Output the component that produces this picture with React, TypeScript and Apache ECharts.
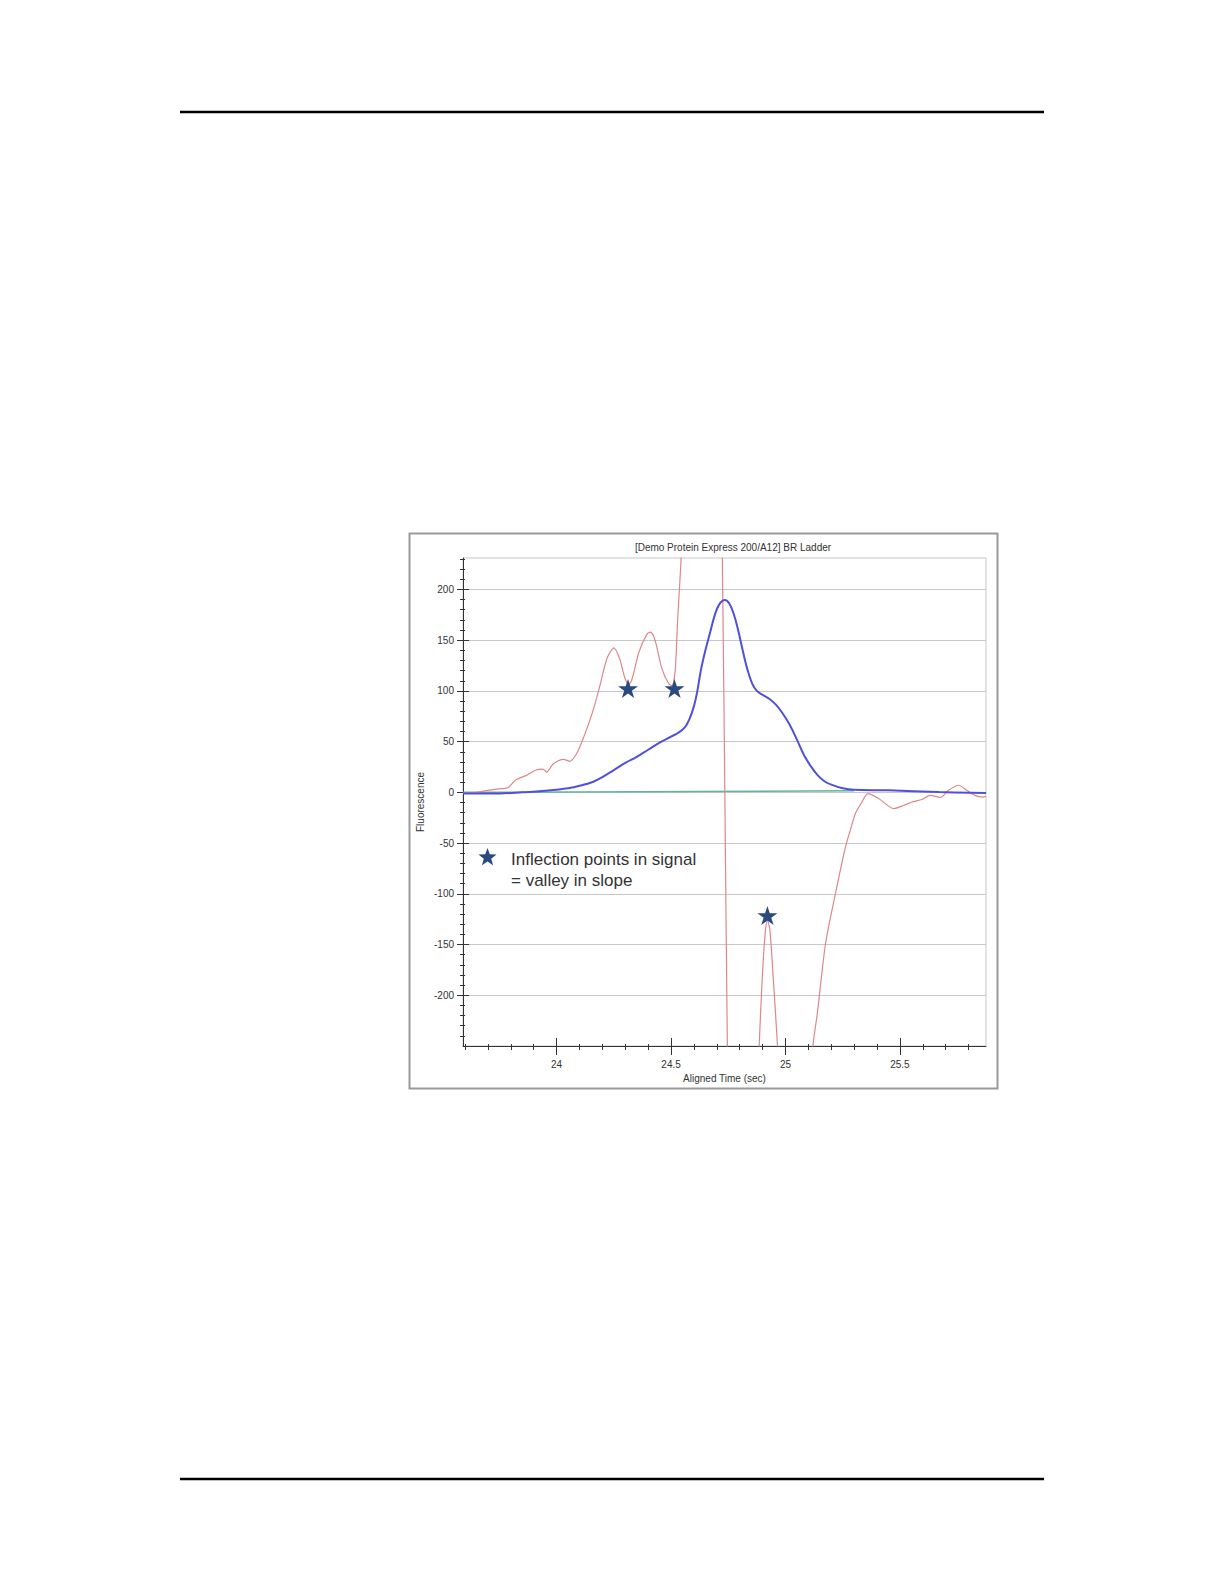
import React, { useEffect, useRef } from "react";
import * as echarts from "echarts";

// ---- Data ----
const chartTitle = "[Demo Protein Express 200/A12] BR Ladder";
const xAxisName = "Aligned Time (sec)";
const yAxisName = "Fluorescence";
const legendLines = ["Inflection points in signal", "= valley in slope"];

const xMin = 23.591;
const xMax = 25.876;
const yMin = -250;
const yMax = 231;

const xTickValues = [24, 24.5, 25, 25.5];
const xMinorTickValues = [
  23.6, 23.7, 23.8, 23.9, 24.0, 24.1, 24.2, 24.3, 24.4, 24.5, 24.6, 24.7, 24.8,
  24.9, 25.0, 25.1, 25.2, 25.3, 25.4, 25.5, 25.6, 25.7, 25.8,
];
const yTickValues = [-200, -150, -100, -50, 0, 50, 100, 150, 200];
const yMinorTickValues = [
  -240, -230, -220, -210, -200, -190, -180, -170, -160, -150, -140, -130, -120,
  -110, -100, -90, -80, -70, -60, -50, -40, -30, -20, -10, 0, 10, 20, 30, 40,
  50, 60, 70, 80, 90, 100, 110, 120, 130, 140, 150, 160, 170, 180, 190, 200,
  210, 220, 230,
];

// Signal (blue)
const signalPoints: [number, number][] = [
  [23.591, -1], [23.75, -1], [23.85, 0], [23.95, 1.5], [24.05, 4],
  [24.11, 7], [24.16, 10.5], [24.2, 15], [24.25, 22], [24.3, 29],
  [24.35, 35], [24.4, 42], [24.45, 49], [24.5, 55], [24.53, 58.5], [24.56, 64],
  [24.58, 72], [24.6, 85], [24.615, 100], [24.63, 120], [24.65, 140],
  [24.67, 157], [24.69, 174], [24.71, 185], [24.735, 189.5], [24.755, 186],
  [24.775, 175], [24.795, 158], [24.815, 138], [24.835, 120], [24.855, 107],
  [24.875, 100], [24.9, 96], [24.93, 92], [24.96, 86], [24.99, 77],
  [25.02, 66], [25.05, 52], [25.08, 37], [25.11, 26], [25.14, 17],
  [25.17, 11], [25.2, 7.6], [25.25, 4], [25.3, 2.5], [25.45, 2],
  [25.67, 0.3], [25.876, -0.7],
];

// Slope (red)
const slopePoints: [number, number][] = [
  [23.591, -1], [23.65, 0], [23.70, 2], [23.75, 3.5], [23.775, 4], [23.79, 5],
  [23.82, 12], [23.87, 17], [23.91, 22], [23.94, 23], [23.956, 20],
  [23.985, 28], [24.03, 32.6], [24.058, 30.6], [24.087, 38], [24.116, 53],
  [24.145, 71], [24.165, 85], [24.19, 106], [24.22, 132], [24.25, 142.5],
  [24.275, 132], [24.298, 113], [24.315, 106], [24.33, 112], [24.36, 138.5],
  [24.395, 156], [24.41, 158], [24.43, 150], [24.46, 122], [24.49, 107],
  [24.505, 105], [24.518, 120], [24.53, 175], [24.544, 231], [24.56, 330],
  [24.6, 500], [24.65, 600], [24.7, 480], [24.715, 340], [24.724, 231],
  [24.735, 0], [24.746, -250], [24.76, -450], [24.8, -650], [24.85, -500],
  [24.875, -320], [24.885, -250], [24.898, -185], [24.91, -142],
  [24.921, -126], [24.932, -136], [24.947, -185], [24.965, -250],
  [25.0, -420], [25.05, -500], [25.1, -340], [25.12, -250], [25.139, -218],
  [25.175, -149], [25.218, -100], [25.262, -54], [25.283, -37.5],
  [25.305, -21], [25.334, -9.5], [25.36, -1.3], [25.407, -6], [25.473, -16],
  [25.516, -13], [25.552, -9.5], [25.596, -7], [25.633, -3], [25.676, -5],
  [25.712, 2], [25.756, 7], [25.792, 2], [25.828, -3], [25.864, -4.6],
  [25.876, -4],
];

// Baseline (green)
const baselinePoints: [number, number][] = [
  [23.591, 0], [25.3, 1.5],
];

// Inflection markers (stars)
const starMarkers: [number, number][] = [
  [24.312, 102.4], [24.515, 102.4], [24.921, -121.4],
];

const STAR_PATH =
  "path://M50,2 L61.2,36.6 L97.6,36.6 L68.2,58 L79.4,92.6 L50,71.2 L20.6,92.6 L31.8,58 L2.4,36.6 L38.8,36.6 Z";

function starPolygon(cx: number, cy: number, R: number, r: number) {
  const pts: number[][] = [];
  for (let i = 0; i < 10; i++) {
    const a = -Math.PI / 2 + (i * Math.PI) / 5;
    const rad = i % 2 === 0 ? R : r;
    pts.push([cx + rad * Math.cos(a), cy + rad * Math.sin(a)]);
  }
  return pts;
}

const FONT = "'Liberation Sans', Arial, sans-serif";
const AXIS_COLOR = "#333";
const LABEL_COLOR = "#333";
const STAR_COLOR = "#284a80";

export default function App() {
  const ref = useRef<HTMLDivElement>(null);

  useEffect(() => {
    if (!ref.current) return;
    const chart = echarts.init(ref.current, undefined, { renderer: "svg" });

    const baseX = {
      type: "value" as const,
      min: xMin,
      max: xMax,
      position: "bottom" as const,
      splitLine: { show: false },
    };
    const baseY = {
      type: "value" as const,
      min: yMin,
      max: yMax,
      position: "left" as const,
    };

    const option: any = {
      animation: false,
      backgroundColor: "#fff",
      grid: {
        left: 463,
        top: 558,
        width: 523,
        height: 488,
        show: true,
        borderColor: "#c8c8c8",
        borderWidth: 1,
        backgroundColor: "transparent",
      },
      xAxis: [
        {
          ...baseX,
          name: xAxisName,
          nameLocation: "middle",
          nameGap: 27,
          nameTextStyle: { fontSize: 10, color: LABEL_COLOR, fontFamily: FONT },
          axisLine: { show: true, onZero: false, lineStyle: { color: AXIS_COLOR, width: 1 } },
          axisTick: {
            show: true,
            inside: false,
            length: 9,
            customValues: xTickValues,
            lineStyle: { color: AXIS_COLOR },
          },
          axisLabel: {
            show: true,
            customValues: xTickValues,
            margin: 13,
            fontSize: 10,
            color: LABEL_COLOR,
            fontFamily: FONT,
          },
        },
        {
          ...baseX,
          axisLine: { show: false, onZero: false },
          axisLabel: { show: false },
          axisTick: {
            show: true,
            inside: true,
            length: 8,
            customValues: xTickValues,
            lineStyle: { color: AXIS_COLOR },
          },
        },
        {
          ...baseX,
          axisLine: { show: false, onZero: false },
          axisLabel: { show: false },
          axisTick: {
            show: true,
            inside: false,
            length: 4,
            customValues: xMinorTickValues,
            lineStyle: { color: AXIS_COLOR },
          },
        },
        {
          ...baseX,
          axisLine: { show: false, onZero: false },
          axisLabel: { show: false },
          axisTick: {
            show: true,
            inside: true,
            length: 2,
            customValues: xMinorTickValues,
            lineStyle: { color: AXIS_COLOR },
          },
        },
      ],
      yAxis: [
        {
          ...baseY,
          interval: 50,
          name: yAxisName,
          nameLocation: "middle",
          nameGap: 38,
          nameTextStyle: { fontSize: 10, color: LABEL_COLOR, fontFamily: FONT },
          axisLine: { show: true, onZero: false, lineStyle: { color: AXIS_COLOR, width: 1 } },
          axisTick: {
            show: true,
            inside: false,
            length: 6,
            customValues: yTickValues,
            lineStyle: { color: AXIS_COLOR },
          },
          axisLabel: {
            show: true,
            customValues: yTickValues,
            margin: 9,
            fontSize: 10,
            color: LABEL_COLOR,
            fontFamily: FONT,
          },
          splitLine: { show: true, lineStyle: { color: "#c8c8c8", width: 1 } },
        },
        {
          ...baseY,
          splitLine: { show: false },
          axisLine: { show: false, onZero: false },
          axisLabel: { show: false },
          axisTick: {
            show: true,
            inside: true,
            length: 6,
            customValues: yTickValues,
            lineStyle: { color: AXIS_COLOR },
          },
        },
        {
          ...baseY,
          splitLine: { show: false },
          axisLine: { show: false, onZero: false },
          axisLabel: { show: false },
          axisTick: {
            show: true,
            inside: false,
            length: 3,
            customValues: yMinorTickValues,
            lineStyle: { color: AXIS_COLOR },
          },
        },
        {
          ...baseY,
          splitLine: { show: false },
          axisLine: { show: false, onZero: false },
          axisLabel: { show: false },
          axisTick: {
            show: true,
            inside: true,
            length: 2,
            customValues: yMinorTickValues,
            lineStyle: { color: AXIS_COLOR },
          },
        },
      ],
      series: [
        {
          name: "Baseline",
          type: "line",
          data: baselinePoints,
          showSymbol: false,
          symbol: "none",
          lineStyle: { color: "#64b496", width: 1.5 },
          z: 2,
        },
        {
          name: "Slope",
          type: "line",
          data: slopePoints,
          showSymbol: false,
          symbol: "none",
          smooth: 0.25,
          clip: true,
          lineStyle: { color: "#dc8888", width: 1.2 },
          z: 3,
        },
        {
          name: "Signal",
          type: "line",
          data: signalPoints,
          showSymbol: false,
          symbol: "none",
          smooth: 0.4,
          lineStyle: { color: "#5050dc", width: 2 },
          z: 4,
        },
        {
          name: "Inflection",
          type: "scatter",
          data: starMarkers,
          symbol: STAR_PATH,
          symbolSize: 20,
          symbolKeepAspect: true,
          itemStyle: { color: STAR_COLOR, opacity: 1 },
          z: 5,
        },
      ],
      graphic: [
        {
          type: "line",
          shape: { x1: 180, y1: 112, x2: 1044, y2: 112 },
          style: { stroke: "#000", lineWidth: 2.5 },
        },
        {
          type: "line",
          shape: { x1: 180, y1: 1479, x2: 1044, y2: 1479 },
          style: { stroke: "#000", lineWidth: 2.5 },
        },
        {
          type: "rect",
          shape: { x: 409.5, y: 533.5, width: 588, height: 555 },
          style: { stroke: "#9a9a9a", lineWidth: 2, fill: "none" },
        },
        {
          type: "text",
          x: 733,
          y: 547,
          style: {
            text: chartTitle,
            fontSize: 10,
            fontFamily: FONT,
            fill: LABEL_COLOR,
            align: "center",
            verticalAlign: "middle",
          },
        },
        {
          type: "polygon",
          shape: { points: starPolygon(487.5, 857.5, 9.5, 3.9) },
          style: { fill: STAR_COLOR },
        },
        {
          type: "text",
          x: 511,
          y: 859,
          style: {
            text: legendLines[0],
            fontSize: 17,
            fontFamily: FONT,
            fill: "#333",
            align: "left",
            verticalAlign: "middle",
          },
        },
        {
          type: "text",
          x: 511,
          y: 880,
          style: {
            text: legendLines[1],
            fontSize: 17,
            fontFamily: FONT,
            fill: "#333",
            align: "left",
            verticalAlign: "middle",
          },
        },
      ],
    };

    chart.setOption(option);
    return () => {
      chart.dispose();
    };
  }, []);

  return (
    <div
      ref={ref}
      style={{ position: "absolute", left: 0, top: 0, width: 1224, height: 1584 }}
    />
  );
}
